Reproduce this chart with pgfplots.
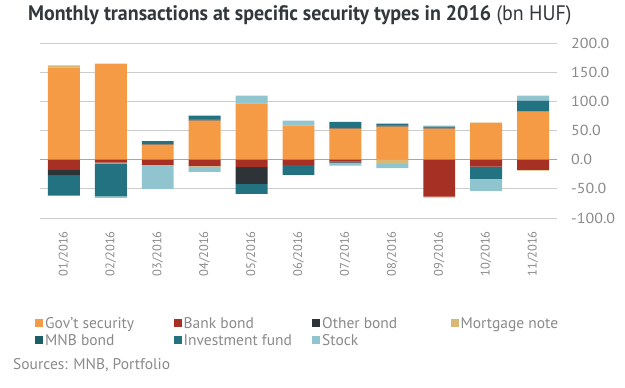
\documentclass[border=0pt]{standalone}
\usepackage{pgfplots}
\pgfplotsset{compat=1.18}
\usepackage{pgfplotstable}
\usepackage{fontspec}
\setmainfont{PT Sans}
\newfontfamily\titlefont{PT Sans}[FakeStretch=0.95]
\newfontfamily\tickfont{PT Sans}[FakeStretch=1.1]

\definecolor{gov}{HTML}{F59B45}
\definecolor{bank}{HTML}{A63023}
\definecolor{other}{HTML}{2E3338}
\definecolor{mort}{HTML}{D9B877}
\definecolor{mnb}{HTML}{1B5E68}
\definecolor{inv}{HTML}{237282}
\definecolor{stock}{HTML}{90C4CF}
\definecolor{txtgray}{HTML}{8A8A8A}
\definecolor{titlegray}{HTML}{33383D}

\pgfplotstableread{
x gov bank other mort mnb inv stock
0 158.3 0 0 3.4 0 0 0
1 164.6 0 0 0 0 0 0
2 25.7 0 1.1 0 0 5.1 0
3 66.9 0 1.7 0 0 6.9 0
4 96.6 0 0 0 0 0 13.1
5 58.3 0 0 0 0 0 8.6
6 53.1 0 0.8 0 0 11.0 0
7 56.6 0 1.7 0 0 3.4 0
8 53.1 0 2.0 0 0 1.7 1.5
9 62.9 0 0 0.6 0 0 0
10 82.3 0 0 0 0 18.9 8.6
}\posdata

\pgfplotstableread{
x gov bank other mort mnb inv stock
0 0 -17.7 -8.6 0 0 -35.4 0
1 0 -5.1 0 -1.2 0 -56.0 -3.4
2 0 -9.1 0 0 0 0 -41.1
3 0 -11.0 0 -1.0 0 0 -9.1
4 0 -12.6 -29.1 0 0 -17.1 0
5 0 -9.1 0 0 0 -17.1 0
6 0 -3.4 -1.7 0 0 0 -5.1
7 0 0 0 -7.4 0 0 -6.9
8 0 -63.4 0 -1.5 0 0 0
9 0 -12.0 0 0 0 -21.1 -20.6
10 0 -17.7 0 -1.1 0 0 0
}\negdata

\pgfplotsset{
  base/.style={
    scale only axis, width=517pt, height=175pt,
    xmin=-0.51, xmax=10.51, ymin=-100, ymax=200,
    ybar stacked, bar width=0.68,
    at={(40pt,170pt)}, anchor=south west,
    every axis plot/.append style={draw=none},
  },
  sq/.style={legend image code/.code={\fill[##1] (0pt,-4pt) rectangle (8pt,4pt);}},
}

\begin{document}
\begin{tikzpicture}
\useasboundingbox (0,0) rectangle (625pt,388pt);
\begin{axis}[base,
  ytick={-100,-50,...,200},
  ymajorgrids,
  grid style={draw=black!20, line width=0.8pt},
  axis line style={draw=none},
  major tick style={draw=none},
  yticklabel pos=right,
  yticklabel style={anchor=west, inner sep=0pt, text=txtgray, font=\tickfont\fontsize{14.5}{16}\selectfont,
    /pgf/number format/.cd, fixed, fixed zerofill, precision=1, assume math mode=true},
  yticklabel shift=14pt,
  xtick={0,...,10},
  xticklabels={01/2016,02/2016,03/2016,04/2016,05/2016,06/2016,07/2016,08/2016,09/2016,10/2016,11/2016},
  xticklabel style={rotate=90, anchor=east, inner sep=0pt, text=txtgray, font=\fontsize{12.5}{14}\selectfont},
  xticklabel shift=13pt,
  extra y ticks={0},
  extra y tick labels={},
  extra y tick style={grid style={draw=black!35, line width=1pt}},
  legend style={at={(-0.0097,-0.554)}, anchor=north west, draw=none, fill=none,
    inner sep=0pt, font=\fontsize{15.5}{18}\selectfont, text=txtgray, row sep=0.5pt},
  legend columns=4,
  legend cell align=left,
]
\addplot[sq, fill=gov] table[x=x,y=gov] {\posdata};
\addlegendentry{\makebox[126.5pt][l]{Gov't security}}
\addplot[sq, fill=bank] table[x=x,y=bank] {\posdata};
\addlegendentry{\makebox[126.5pt][l]{Bank bond}}
\addplot[sq, fill=other] table[x=x,y=other] {\posdata};
\addlegendentry{\makebox[126.5pt][l]{Other bond}}
\addplot[sq, fill=mort] table[x=x,y=mort] {\posdata};
\addlegendentry{\makebox[126.5pt][l]{Mortgage note}}
\addplot[sq, fill=mnb] table[x=x,y=mnb] {\posdata};
\addlegendentry{\makebox[126.5pt][l]{MNB bond}}
\addplot[sq, fill=inv] table[x=x,y=inv] {\posdata};
\addlegendentry{\makebox[126.5pt][l]{Investment fund}}
\addplot[sq, fill=stock] table[x=x,y=stock] {\posdata};
\addlegendentry{\makebox[126.5pt][l]{Stock}}
\end{axis}
\begin{axis}[base, hide axis]
\addplot[fill=gov] table[x=x,y=gov] {\negdata};
\addplot[fill=bank] table[x=x,y=bank] {\negdata};
\addplot[fill=other] table[x=x,y=other] {\negdata};
\addplot[fill=mort] table[x=x,y=mort] {\negdata};
\addplot[fill=mnb] table[x=x,y=mnb] {\negdata};
\addplot[fill=inv] table[x=x,y=inv] {\negdata};
\addplot[fill=stock] table[x=x,y=stock] {\negdata};
\end{axis}
\node[anchor=base west, inner sep=0pt, text=titlegray] at (28pt,367.3pt)
  {\titlefont\fontsize{21}{24}\selectfont\bfseries Monthly transactions at specific security types in 2016\mdseries\ (bn HUF)};
\node[anchor=base west, inner sep=0pt, text=txtgray] at (13pt,18pt)
  {\fontsize{15.5}{18}\selectfont Sources: MNB, Portfolio};
\end{tikzpicture}
\end{document}
